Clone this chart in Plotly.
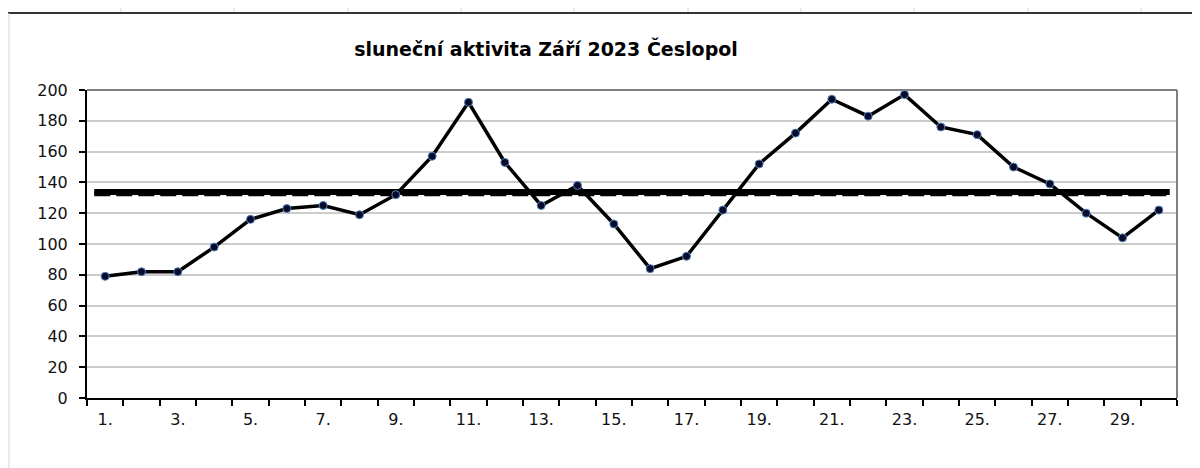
import plotly.graph_objects as go

# ---- data ----
days = list(range(1, 31))
day_labels = [f"{d}." for d in days]
activity = [79, 82, 82, 98, 116, 123, 125, 119, 132, 157,
            192, 153, 125, 138, 113, 84, 92, 122, 152, 172,
            194, 183, 197, 176, 171, 150, 139, 120, 104, 122]
mean_value = sum(activity) / len(activity)
ref_value = 132.6  # dashed reference level
title_text = "sluneční aktivita Září 2023 Česlopol"

# page body has an 8px margin; figure is sized to fill the rest of the window
OFF = 8
W, H = 1200 - OFF, 468 - OFF
L, R, T, B = 87, 1177, 90, 398  # plot area in window pixels


def px(x):
    return (x - L) / (R - L)


def py(y):
    return (B - y) / (B - T)


fig = go.Figure()

# mean lines (thick solid + dashed)
fig.add_trace(go.Scatter(x=[0.7, 30.3], y=[mean_value, mean_value], mode="lines",
                         line=dict(color="black", width=6), hoverinfo="skip", showlegend=False))
fig.add_trace(go.Scatter(x=[0.7, 30.3], y=[ref_value, ref_value], mode="lines",
                         line=dict(color="black", width=5, dash="16px,6px"), hoverinfo="skip", showlegend=False))

# daily series
fig.add_trace(go.Scatter(x=days, y=activity, mode="lines+markers",
                         line=dict(color="black", width=3.5),
                         marker=dict(size=8, color="#0a0a2a", line=dict(color="#4f81bd", width=1)),
                         showlegend=False))

shapes = []
# spreadsheet decoration (top cell grid + border lines)
for cx in [121, 234, 348, 461, 574, 688, 801, 914, 1028, 1141]:
    shapes.append(dict(type="line", xref="paper", yref="paper",
                       x0=px(cx), x1=px(cx), y0=py(OFF), y1=py(12),
                       line=dict(color="#d4d4d4", width=1), layer="below"))
shapes.append(dict(type="line", xref="paper", yref="paper",
                   x0=px(OFF), x1=px(1200), y0=py(13), y1=py(13),
                   line=dict(color="#333333", width=2)))
shapes.append(dict(type="line", xref="paper", yref="paper",
                   x0=px(9), x1=px(9), y0=py(13), y1=py(468),
                   line=dict(color="#d4d4d4", width=1)))
# top & right plot border (grey)
shapes.append(dict(type="line", xref="paper", yref="paper",
                   x0=0, x1=1, y0=1, y1=1, line=dict(color="#808080", width=2)))
shapes.append(dict(type="line", xref="paper", yref="paper",
                   x0=1, x1=1, y0=0, y1=1, line=dict(color="#808080", width=2)))

font = "DejaVu Sans, Verdana, sans-serif"

fig.update_layout(
    width=W, height=H,
    margin=dict(l=L - OFF, r=1200 - R, t=T - OFF, b=468 - B),
    paper_bgcolor="white", plot_bgcolor="white",
    title=dict(text=f"<b>{title_text}</b>", x=(546 - OFF) / W, xanchor="center",
               y=1 - (49 - OFF) / H, yanchor="middle",
               font=dict(family=font, size=19, color="black")),
    shapes=shapes,
    font=dict(family=font, size=16, color="#111111"),
)

fig.update_xaxes(
    range=[0.5, 30.5], tickmode="array",
    tickvals=days[::2], ticktext=day_labels[::2],
    ticks="", showgrid=False, zeroline=False,
    showline=True, linecolor="black", linewidth=2,
    ticklabelstandoff=6,
    tickfont=dict(family=font, size=16, color="#111111"),
    minor=dict(tickmode="linear", tick0=0.5, dtick=1, ticks="outside",
               ticklen=6, tickcolor="black", tickwidth=2, showgrid=False),
)
fig.update_yaxes(
    range=[0, 200], tickmode="linear", tick0=0, dtick=20,
    ticks="outside", ticklen=6, tickcolor="black", tickwidth=2,
    showgrid=True, gridcolor="#cccccc", gridwidth=1.5,
    zeroline=False, showline=True, linecolor="black", linewidth=2,
    ticklabelstandoff=8,
    tickfont=dict(family=font, size=16, color="#111111"),
)

fig.write_html("out.html")
